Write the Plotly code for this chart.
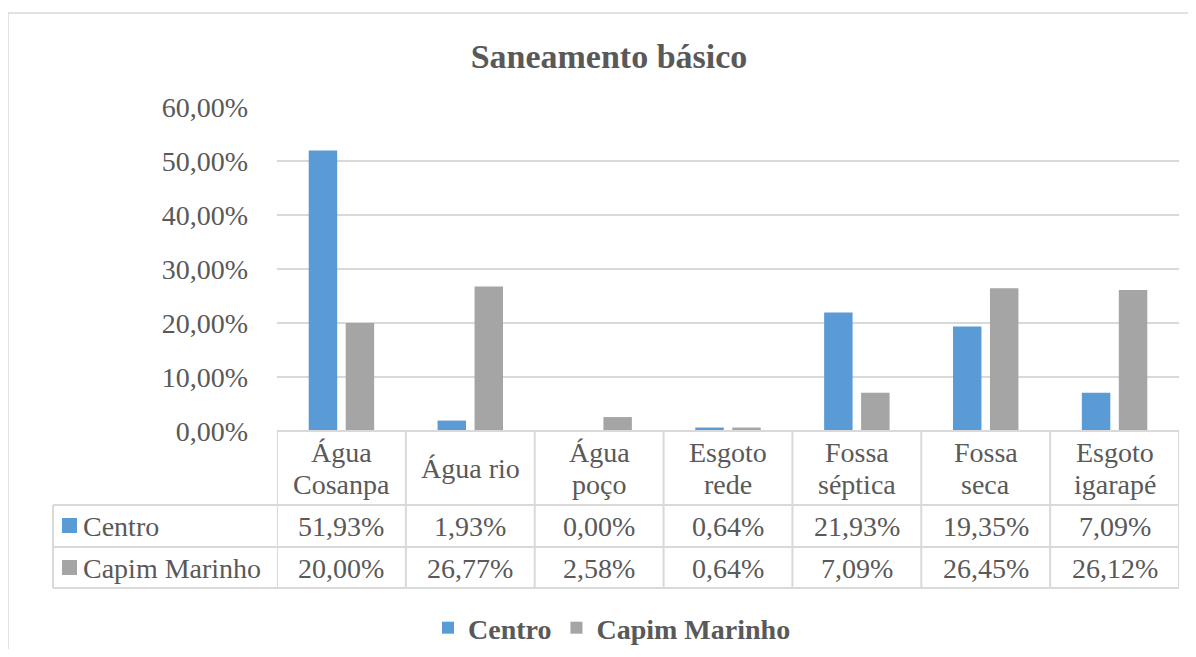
import plotly.graph_objects as go

# ---- data ----
categories = ["Água Cosanpa", "Água rio", "Água poço", "Esgoto rede",
              "Fossa séptica", "Fossa seca", "Esgoto igarapé"]
header_labels = ["Água<br>Cosanpa", "Água rio", "Água<br>poço", "Esgoto<br>rede",
                 "Fossa<br>séptica", "Fossa<br>seca", "Esgoto<br>igarapé"]
centro = [0.5193, 0.0193, 0.0000, 0.0064, 0.2193, 0.1935, 0.0709]
capim_marinho = [0.2000, 0.2677, 0.0258, 0.0064, 0.0709, 0.2645, 0.2612]
series_names = ["Centro", "Capim Marinho"]
series_colors = ["#5B9BD5", "#A5A5A5"]
y_ticks = [0, 0.1, 0.2, 0.3, 0.4, 0.5, 0.6]

# ---- layout geometry (pixels in the screenshot) ----
OFF = 8  # page body margin
W, H = 1196 - 2 * OFF, 657 - 2 * OFF
PL, PR, PT, PB = 277, 1179, 107, 431
TXT = "#595959"
GRID = "#D9D9D9"
FONT = "Liberation Serif, Times New Roman, serif"


def px_x(x):
    return (x - PL) / (PR - PL)


def px_y(y):
    return (PB - y) / (PB - PT)


def fmt(v):
    return f"{v * 100:.2f}%".replace(".", ",")


fig = go.Figure()
for name, vals, col in zip(series_names, [centro, capim_marinho], series_colors):
    fig.add_trace(go.Bar(x=categories, y=vals, name=name,
                         marker=dict(color=col, line=dict(width=0))))

shapes = []
annotations = []

# outer chart border (left + top visible)
shapes.append(dict(type="rect", xref="paper", yref="paper",
                   x0=px_x(8), x1=px_x(1230), y0=px_y(13), y1=px_y(690),
                   line=dict(color=GRID, width=1.5), layer="below"))

# table lines
row_lines = [505, 547, 588]
for yy in row_lines:
    shapes.append(dict(type="line", xref="paper", yref="paper",
                       x0=px_x(53), x1=1, y0=px_y(yy), y1=px_y(yy),
                       line=dict(color=GRID, width=2)))
shapes.append(dict(type="line", xref="paper", yref="paper",
                   x0=0, x1=1, y0=0, y1=0, line=dict(color=GRID, width=2)))
for i in range(len(categories) + 1):
    shapes.append(dict(type="line", xref="x", yref="paper",
                       x0=i - 0.5, x1=i - 0.5, y0=0, y1=px_y(588),
                       line=dict(color=GRID, width=2)))
shapes.append(dict(type="line", xref="paper", yref="paper",
                   x0=px_x(53), x1=px_x(53), y0=px_y(505), y1=px_y(588),
                   line=dict(color=GRID, width=2)))

# header cells (lines placed individually for tighter line spacing)
HEAD_C, LINE_SP = 468, 32
for i, lab in enumerate(header_labels):
    lines = lab.split("<br>")
    n = len(lines)
    for k, ln in enumerate(lines):
        yc = HEAD_C + (k - (n - 1) / 2) * LINE_SP
        annotations.append(dict(x=i, xref="x", y=px_y(yc), yref="paper",
                                text=ln, showarrow=False, yanchor="middle",
                                font=dict(family=FONT, size=28, color=TXT)))

# value rows
row_centers = [526, 568]
for r, (name, vals, col) in enumerate(zip(series_names, [centro, capim_marinho], series_colors)):
    yc = row_centers[r]
    for i, v in enumerate(vals):
        annotations.append(dict(x=i, xref="x", y=px_y(yc), yref="paper",
                                text=fmt(v), showarrow=False, yanchor="middle",
                                font=dict(family=FONT, size=28, color=TXT)))
    annotations.append(dict(x=px_x(81), xref="paper", y=px_y(yc), yref="paper",
                            text=name, showarrow=False, xanchor="left", yanchor="middle",
                            font=dict(family=FONT, size=28, color=TXT)))
    shapes.append(dict(type="rect", xref="paper", yref="paper",
                       x0=px_x(62), x1=px_x(77), y0=px_y(yc - 8), y1=px_y(yc + 7),
                       fillcolor=col, line=dict(width=0)))

fig.update_layout(
    width=W, height=H,
    margin=dict(l=PL - OFF, r=W - (PR - OFF), t=PT - OFF, b=H - (PB - OFF),
                autoexpand=False),
    paper_bgcolor="white", plot_bgcolor="white",
    separators=",.",
    barmode="group", bargap=0.426, bargroupgap=0.23,
    title=dict(text="<b>Saneamento básico</b>", x=px_x(609), xref="paper",
               xanchor="center", y=1 - (56 - OFF) / H, yref="container", yanchor="middle",
               font=dict(family=FONT, size=34, color=TXT)),
    xaxis=dict(range=[-0.5, len(categories) - 0.5], showticklabels=False,
               showgrid=False, zeroline=False, showline=False, ticks=""),
    yaxis=dict(range=[0, 0.6], tickvals=y_ticks, tickformat=".2%",
               showgrid=True, gridcolor=GRID, gridwidth=1.5,
               zeroline=False, showline=False, ticks="",
               ticklabelstandoff=28,
               tickfont=dict(family=FONT, size=28, color=TXT)),
    showlegend=True,
    legend=dict(orientation="h", x=px_x(612), xanchor="center",
                y=px_y(628), yanchor="middle", itemwidth=30,
                font=dict(family=FONT, size=28, color=TXT, weight="bold"),
                bgcolor="rgba(0,0,0,0)"),
    shapes=shapes,
    annotations=annotations,
)

fig.write_html("out.html")
